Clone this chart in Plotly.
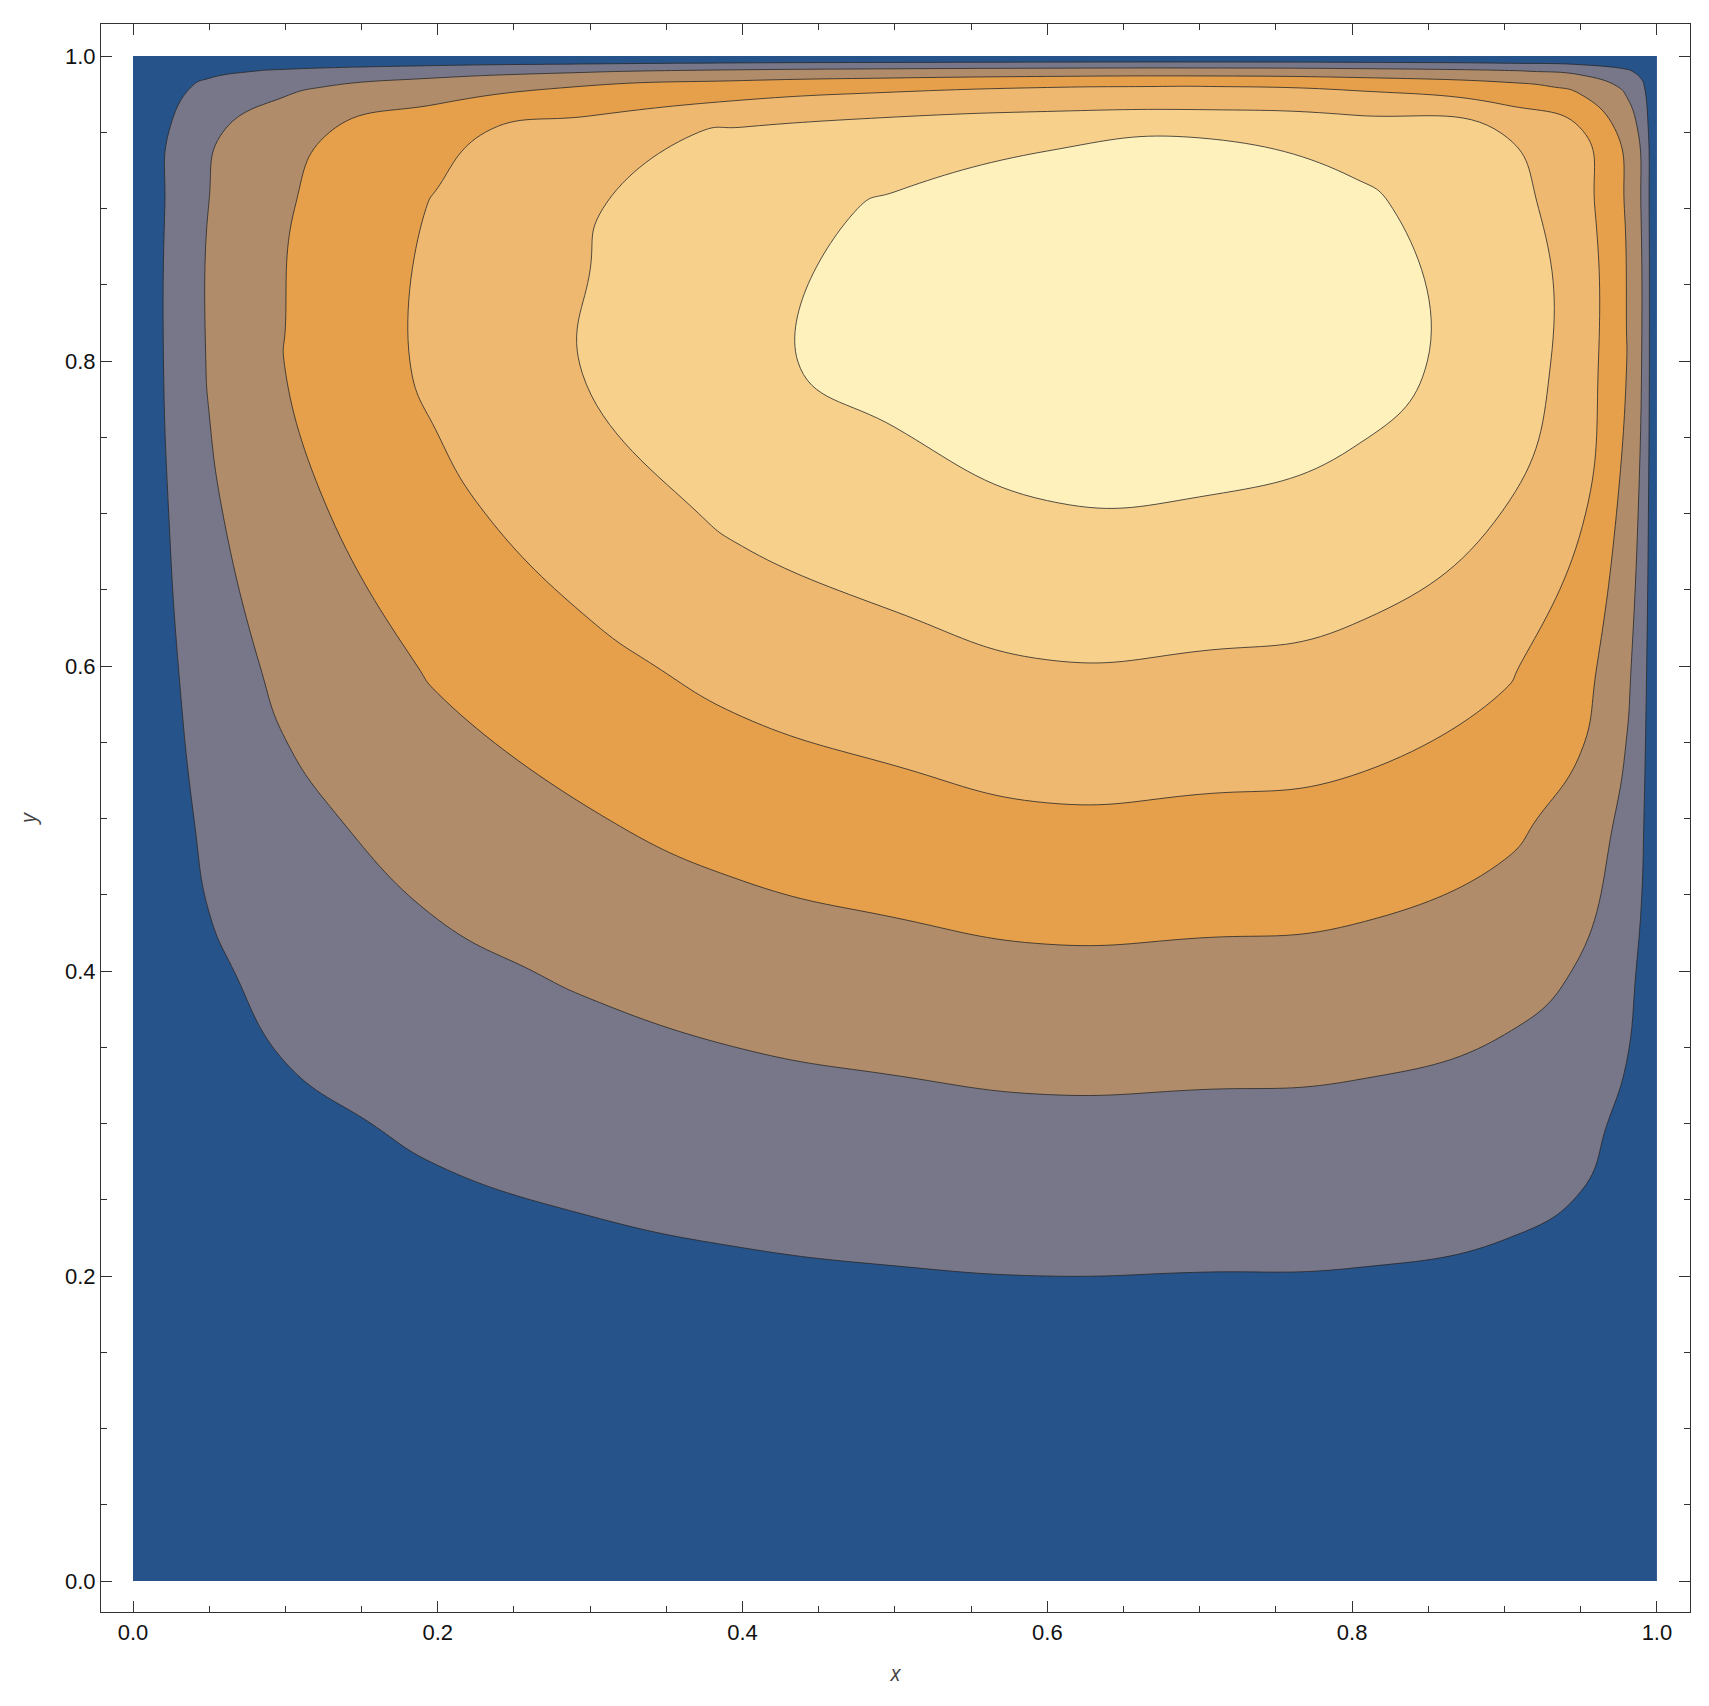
import plotly.graph_objects as go

# grid (stream-function-like field, band index units)
x_vals = [0, 0.01, 0.02, 0.05, 0.1, 0.2, 0.3, 0.4, 0.5, 0.6, 0.7, 0.8, 0.9, 0.95, 0.98, 0.99, 1.0]
y_vals = [0, 0.1, 0.2, 0.3, 0.4, 0.5, 0.6, 0.7, 0.8, 0.9, 0.95, 0.98, 0.99, 1.0]
z_vals = [
    [0, 0, 0, 0, 0, 0, 0, 0, 0, 0, 0, 0, 0, 0, 0, 0, 0],
    [0, .04, .08, .16, .23, .32, .38, .44, .47, .5, .49, .48, .42, .35, .23, .15, 0],
    [0, .08, .15, .31, .45, .63, .76, .87, .95, 1.0, .98, .96, .84, .69, .45, .3, 0],
    [0, .14, .27, .56, .82, 1.14, 1.37, 1.57, 1.7, 1.81, 1.78, 1.73, 1.51, 1.25, .82, .54, 0],
    [0, .21, .42, .87, 1.27, 1.77, 2.14, 2.45, 2.65, 2.81, 2.77, 2.69, 2.35, 1.94, 1.27, .84, 0],
    [0, .29, .58, 1.21, 1.75, 2.45, 2.95, 3.38, 3.65, 3.89, 3.83, 3.71, 3.24, 2.68, 1.75, 1.17, 0],
    [0, .37, .74, 1.54, 2.23, 3.12, 3.77, 4.31, 4.66, 4.96, 4.90, 4.74, 4.14, 3.42, 2.23, 1.49, 0],
    [0, .45, .89, 1.85, 2.69, 3.76, 4.53, 5.19, 5.61, 5.94, 5.92, 5.70, 4.98, 4.11, 2.69, 1.79, 0],
    [0, .5, 1.0, 2.08, 3.02, 4.22, 5.09, 5.83, 6.3, 6.65, 6.65, 6.4, 5.59, 4.62, 3.02, 2.01, 0],
    [0, .49, .97, 2.02, 2.93, 4.09, 4.94, 5.66, 6.11, 6.4, 6.5, 6.21, 5.42, 4.48, 2.93, 1.95, 0],
    [0, .45, .89, 1.85, 2.69, 3.76, 4.53, 5.19, 5.61, 5.87, 5.96, 5.70, 4.98, 4.11, 2.69, 1.79, 0],
    [0, .3, .6, 1.25, 1.81, 2.53, 3.05, 3.5, 3.78, 3.96, 4.02, 3.84, 3.35, 2.77, 1.81, 1.21, 0],
    [0, .19, .38, .79, 1.15, 1.6, 1.93, 2.22, 2.39, 2.51, 2.55, 2.43, 2.12, 1.76, 1.15, .76, 0],
    [0, 0, 0, 0, 0, 0, 0, 0, 0, 0, 0, 0, 0, 0, 0, 0, 0],
]
band_colors = ['#26538a', '#777789', '#b08c6a', '#e6a04b', '#efb870', '#f7d18c', '#fff1bb']

cs = []
n = len(band_colors)
for i, c in enumerate(band_colors):
    cs.append([i / n, c])
    cs.append([(i + 1) / n, c])

fig = go.Figure(go.Contour(
    x=x_vals, y=y_vals, z=z_vals,
    colorscale=cs, zmin=0, zmax=7, showscale=False,
    contours=dict(start=1, end=6, size=1, coloring='fill'),
    line=dict(color='rgba(40,40,40,0.8)', width=1, smoothing=1.3),
    hoverinfo='skip',
))

axis = dict(
    showgrid=False, zeroline=False, showline=True, linecolor='#333', linewidth=1.2,
    mirror='ticks', ticks='inside', ticklen=11, tickcolor='#333',
    dtick=0.2, tickformat='.1f',
    minor=dict(dtick=0.05, ticks='inside', ticklen=6, tickcolor='#333'),
    tickfont=dict(family='Liberation Sans, Arial', size=22, color='#111'),
)
fig.update_xaxes(axis, range=[-0.021, 1.0217],
                 title=dict(text='<i>x</i>', font=dict(size=21, color='#444'), standoff=22))
fig.update_yaxes(axis, range=[-0.0203, 1.021],
                 title=dict(text='<i>y</i>', font=dict(size=21, color='#444'), standoff=22))
fig.update_layout(
    width=1709, height=1706,
    margin=dict(l=93, r=27, t=16, b=102),
    paper_bgcolor='white', plot_bgcolor='white',
)

fig.write_html("out.html")
